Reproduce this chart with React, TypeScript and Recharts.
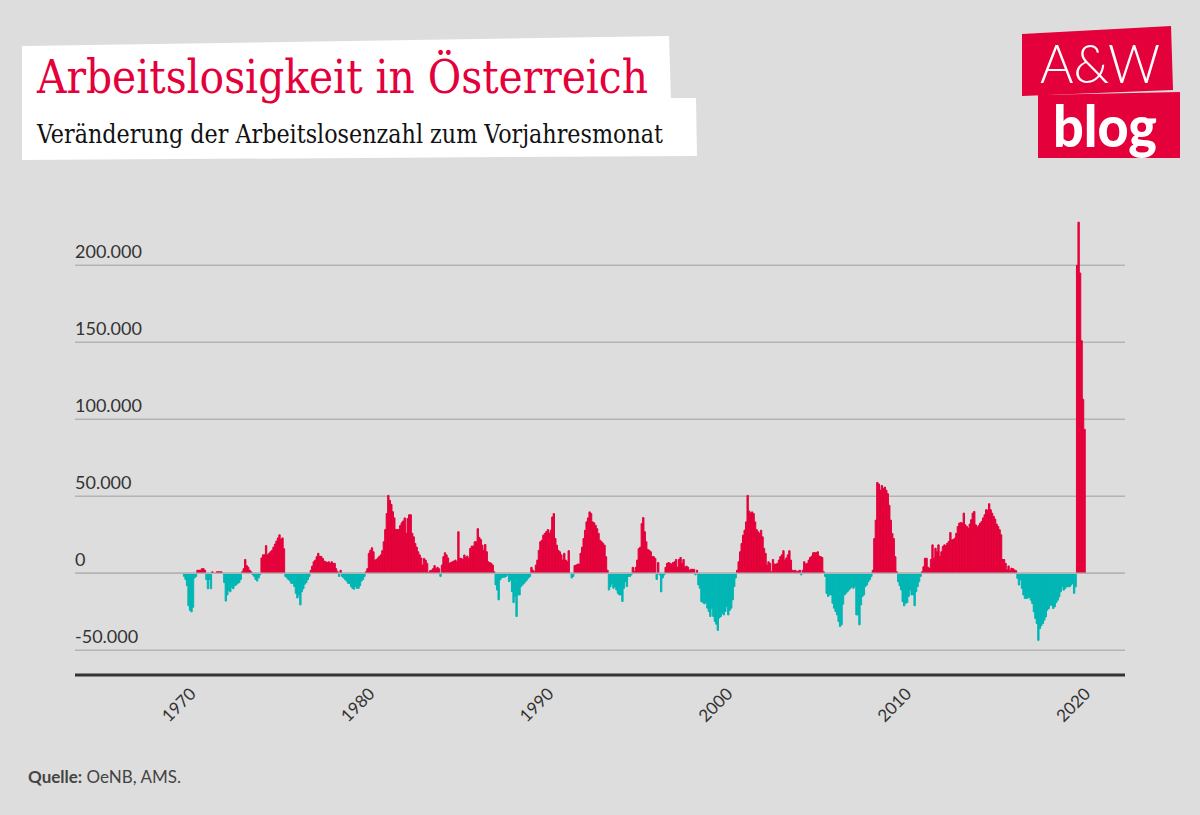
import React from 'react';
import { BarChart, Bar, Cell, XAxis, YAxis, CartesianGrid, ReferenceLine } from 'recharts';

// Veränderung der Arbeitslosenzahl zum Vorjahresmonat, in Tausend (Jan..Dez), null = keine Daten
const FIRST_YEAR = 1970;
const y1970 = [null, null, null, -2, -4, -8, -21, -24, -25, -22, -3, -2];
const y1971 = [2, 2, 2, 3, 3, 2, -4, -10, -4, -10, 1, 0];
const y1972 = [0, 1, 1, 1, 1, 0, -6, -18, -14, -11, -12, -9];
const y1973 = [-10, -8, -7.5, -6.5, -6, -4, 1, 3, 9, 5, 4, 2];
const y1974 = [1, -1, -2, -4, -5, -3, -1, 10, 12, 12, 18, 12];
const y1975 = [13, 14, 15, 17, 19, 21, 23, 25, 22, 23, 16, -2];
const y1976 = [-3, -4, -5, -6.5, -6.5, -8.6, -13, -16, -14, -20.5, -12, -10];
const y1977 = [-7, -6, -4, -2, 2, 4.7, 7.5, 8.6, 10.8, 13, 11, 11];
const y1978 = [9.7, 8, 7.5, 7, 7.5, 6.5, 7.5, 6.5, 6.5, 3, 1, -2];
const y1979 = [2, -2, -3, -4, -5, -6.5, -6.5, -8.6, -9.7, -10.3, -8.6, -9.7];
const y1980 = [-9.7, -8, -5, -4, -2, 1, 3, 13, 15, 16.6, 14, 8.6];
const y1981 = [9, 10, 11, 12, 14.7, 20.5, 28.4, 38.8, 50.6, 47.4, 44.8, 40];
const y1982 = [36, 28.4, 28.4, 28.4, 31, 32.8, 34, 36, 26, 35.6, 38, 38];
const y1983 = [26, 23.7, 19.4, 17, 14, 12, 10, 5.4, 9.7, 8.6, 6.5, 0.5];
const y1984 = [1.7, 2, 3, 5, 3, 3.9, 3, -2, 5.4, 10.8, 13.4, 12];
const y1985 = [10, 6.5, 7, 7.5, 8, 8.6, 7.5, 27, 9.7, 9.7, 9, 11.9];
const y1986 = [10.3, 11.2, 9.7, 16.2, 17.7, 17.7, 20.5, 20.5, 29, 23.3, 22, 18.3];
const y1987 = [15, 18.7, 14, 7.5, 7, 6.5, 5.4, 1, -7.5, -10.8, -17.2, -4.3];
const y1988 = [-3, -2.5, -2.5, -2, -1, -5.4, -4.3, -11.9, -19, -15, -28, -14];
const y1989 = [-14, -8.6, -7.5, -6.5, -5.4, -4.3, -3, -2, 3.9, 2, 1, 5.4];
const y1990 = [8.6, 15, 20.5, 21.5, 24.8, 25.9, 27, 28.4, 26, 28, 36.6, 38.8];
const y1991 = [22.6, 18.3, 15, 14, 12, 8.6, 13, 8.6, 7.5, 14.7, 0, -3];
const y1992 = [-2, 5, 5.4, 6, 6, 13, 17, 22.6, 28, 33.4, 36, 39.9];
const y1993 = [38.8, 33.4, 32.8, 31.2, 29, 25.9, 21.5, 20.5, 19.5, 18.3, 10.8, 2];
const y1994 = [-10.8, -8.6, -6.5, -9.7, -8.6, -10.8, -13, -14, -14, -18.3, -9.7, -5.4];
const y1995 = [-8.6, -2, -2, -1, 3.9, 1, 3.9, 8.6, 16, 17, 32.3, 36.2];
const y1996 = [27, 20.5, 15.5, 15, 14, 10.8, 10.8, 9.7, -4, 7, -1, -12];
const y1997 = [-3, -1, 3.9, 6.5, 7, 6.5, 6, 7, 7.5, 9, 4, 9];
const y1998 = [10.3, 6.5, 9, 4, 4.7, 4, 2, 2.6, 2.6, 2.6, -1, 2];
const y1999 = [-7.5, -9.7, -18.3, -19, -19.8, -19, -22.6, -24.8, -28, -22.6, -28, -31.2];
const y2000 = [-33, -37, -29, -28, -25.9, -27, -24.8, -21.5, -27, -24, -22.6, -17.2];
const y2001 = [-8.6, -3, 2, 7.5, 14, 19.4, 24.8, 28, 33.4, 50.6, 40.5, 39.2];
const y2002 = [39.9, 38.8, 33.4, 28.4, 27, 25.9, 28, 23.7, 16.2, 13, 5.4, 7.5];
const y2003 = [6.5, 1, 9, 6, 6, 6.5, 8.6, 10.8, 12, 14.7, 8.6, 10];
const y2004 = [12, 14.7, 8.6, 2, 1.7, 2, 1, 1.5, 2, -1, 2, 7.5];
const y2005 = [6, 6.5, 8.6, 10.3, 11.2, 13.4, 13.4, 13.4, 14, 11.2, 10.8, 10.3];
const y2006 = [1, -2, -13, -15, -14, -14, -19.4, -22.6, -24.8, -27, -31.2, -34.5];
const y2007 = [-33.4, -20, -14, -13, -11.9, -10.8, -9.7, -8.6, -9.7, -8.6, -27, -27];
const y2008 = [-33.4, -20.5, -15, -14, -8.6, -7.5, -5.4, -4, -2, 2, 22.6, 34.5];
const y2009 = [59, 58, 53.9, 57, 55, 56, 54, 51.7, 44.2, 34.5, 25.9, 22.6];
const y2010 = [10.8, 1, -5.4, -8, -10.8, -18.3, -21.1, -19.4, -19, -15, -10.8, -14];
const y2011 = [-14, -21, -11.9, -8.6, -5.4, -2, 1, 4.3, 9.8, 9.8, 4, 3.3];
const y2012 = [9, 18.5, 9.8, 16.3, 14, 18.5, 10.9, 14, 17.4, 18.5, 18, 19.6];
const y2013 = [20.7, 26.5, 21.7, 22, 22.8, 26, 30.4, 32.6, 33, 32.6, 39.1, 31.5];
const y2014 = [30.4, 29.3, 32, 34.8, 39.1, 40.2, 31.5, 30, 31, 32.6, 33.7, 36];
const y2015 = [38, 41.3, 41, 45.2, 41.3, 39.1, 37, 35.2, 32, 30.4, 28.3, 25];
const y2016 = [9, 9, 6.5, 2.2, 4.8, 1.7, 3.3, 3, 2.2, 1.7, -3.3, -7.6];
const y2017 = [-4.3, -9.8, -14, -16.3, -16.3, -16, -15.5, -17.4, -19.6, -25, -29.3, -32.6];
const y2018 = [-43.5, -35.9, -34, -32.6, -30.4, -28.3, -23.9, -22.8, -20.7, -20.7, -22.8, -21.7];
const y2019 = [-19, -17.4, -15.2, -12, -8.7, -10.9, -9.8, -8.7, -8.7, -8.7, -7.6, -6.5];
const y2020 = [-13, -8.7, 200, 228, 195, 151, 113, 93.5, null, null, null, null];

const YEARS = [
  y1970, y1971, y1972, y1973, y1974, y1975, y1976, y1977, y1978, y1979,
  y1980, y1981, y1982, y1983, y1984, y1985, y1986, y1987, y1988, y1989,
  y1990, y1991, y1992, y1993, y1994, y1995, y1996, y1997, y1998, y1999,
  y2000, y2001, y2002, y2003, y2004, y2005, y2006, y2007, y2008, y2009,
  y2010, y2011, y2012, y2013, y2014, y2015, y2016, y2017, y2018, y2019,
  y2020,
];

const X_TICKS = [1970, 1980, 1990, 2000, 2010, 2020];
const Y_TICKS = [-50, 0, 50, 100, 150, 200];

const RED = '#e4003a';
const TEAL = '#00b6b4';
const BG = '#dddddd';
const GRID = '#b4b4b4';
const TEXT = '#333333';
const PLOT_LEFT = 75;

const data = YEARS.flatMap((vals, yi) =>
  vals.map((v, m) => ({ t: FIRST_YEAR + yi + (m + 0.5) / 12, v }))
).filter(d => d.v !== null);

const fmtThousands = (v: number) => (v === 0 ? '0' : `${v}.000`);

const YTick = ({ y, payload }: any) => (
  <text x={PLOT_LEFT} y={y - 7} fill={TEXT} fontSize={18} fontFamily="Lato, 'Open Sans', sans-serif" textAnchor="start">
    {fmtThousands(payload.value)}
  </text>
);

const XTick = ({ x, y, payload }: any) => {
  const ax = x + 18;
  const ay = y + 20;
  return (
    <text x={ax} y={ay} transform={`rotate(-45 ${ax} ${ay})`} textAnchor="end" fill={TEXT} fontSize={17} fontFamily="Lato, 'Open Sans', sans-serif">
      {payload.value}
    </text>
  );
};

export default function App() {
  return (
    <div style={{ position: 'absolute', left: 0, top: 0, width: 1200, height: 815, background: BG, overflow: 'hidden' }}>
      <svg width={1200} height={815} style={{ position: 'absolute', left: 0, top: 0 }}>
        <polygon points="22,46 669,36 671,101 22,101" fill="#ffffff" />
        <polygon points="22,100 696,98 697,156 22,160" fill="#ffffff" />
        <text x={37} y={93} fill={RED} fontSize={46} fontFamily="'DejaVu Serif Condensed', 'DejaVu Serif', serif" textLength={611} lengthAdjust="spacingAndGlyphs">
          Arbeitslosigkeit in Österreich
        </text>
        <text x={37} y={143} fill="#111111" fontSize={26} fontFamily="'DejaVu Serif Condensed', 'DejaVu Serif', serif" textLength={626} lengthAdjust="spacingAndGlyphs">
          Veränderung der Arbeitslosenzahl zum Vorjahresmonat
        </text>

        <polygon points="1022,34 1171,26 1173,90 1022,96" fill={RED} />
        <polygon points="1038,95 1180,92 1180,158 1038,158" fill={RED} />
        <text x={1040} y={83} fill="#ffffff" fontSize={53} fontWeight={300} fontFamily="Lato, sans-serif" textLength={120} lengthAdjust="spacingAndGlyphs">
          A&amp;W
        </text>
        <text x={1053} y={147} fill="#ffffff" fontSize={58} fontWeight={900} fontFamily="Lato, sans-serif" textLength={104} lengthAdjust="spacingAndGlyphs">
          blog
        </text>

        <text x={28} y={783} fill="#444444" fontSize={17} fontFamily="Lato, sans-serif">
          <tspan fontWeight={700}>Quelle:</tspan> OeNB, AMS.
        </text>
      </svg>

      <div style={{ position: 'absolute', left: 0, top: 0 }}>
        <BarChart width={1200} height={815} data={data} margin={{ top: 203.7, right: 75, bottom: 80, left: PLOT_LEFT - 1 }}>
          <CartesianGrid vertical={false} horizontalValues={Y_TICKS} stroke={GRID} strokeWidth={1.5} />
          <XAxis
            type="number"
            dataKey="t"
            domain={[1964.19, 2022.88]}
            allowDataOverflow
            ticks={X_TICKS}
            interval={0}
            height={60}
            tickLine={false}
            tickSize={0}
            tickMargin={0}
            axisLine={{ stroke: '#333333', strokeWidth: 3 }}
            tick={<XTick />}
          />
          <YAxis
            type="number"
            domain={[-66, 240]}
            ticks={Y_TICKS}
            interval={0}
            width={1}
            axisLine={false}
            tickLine={false}
            tick={<YTick />}
          />
          <Bar dataKey="v" barSize={1.9} isAnimationActive={false}>
            {data.map((d, i) => {
              const c = (d.v as number) >= 0 ? RED : TEAL;
              return <Cell key={`c-${i}`} fill={c} stroke={c} strokeWidth={1} />;
            })}
          </Bar>
          <ReferenceLine y={0} stroke={GRID} strokeWidth={1.5} />
        </BarChart>
      </div>
    </div>
  );
}
